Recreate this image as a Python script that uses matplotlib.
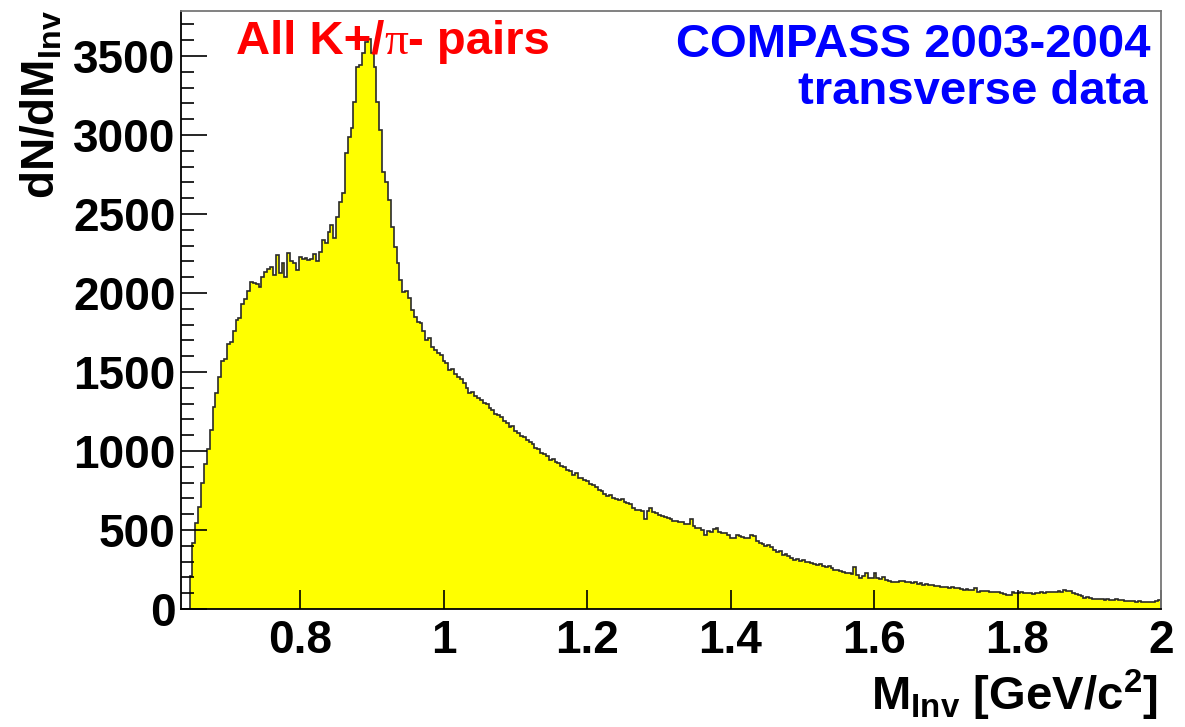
import numpy as np
import matplotlib
matplotlib.use("Agg")
import matplotlib.pyplot as plt
from matplotlib.ticker import MultipleLocator, NullLocator

plt.rcParams['mathtext.fontset'] = 'custom'
plt.rcParams['mathtext.rm'] = 'Liberation Sans:bold'
plt.rcParams['mathtext.it'] = 'Liberation Sans:bold'
plt.rcParams['mathtext.bf'] = 'Liberation Sans:bold'
plt.rcParams['mathtext.default'] = 'rm'

# ---------------- data ----------------
x_min = 0.634
x_max = 2.0
y_max = 3785

counts = [
    0, 0, 0, 210, 416, 545, 648, 795, 915, 1010,
    1133, 1280, 1368, 1470, 1572, 1580, 1676, 1690, 1760, 1829,
    1842, 1930, 1960, 2010, 2072, 2066, 2060, 2040, 2103, 2135,
    2150, 2165, 2114, 2240, 2124, 2188, 2103, 2251, 2200, 2188,
    2146, 2230, 2215, 2220, 2212, 2215, 2250, 2205, 2262, 2336,
    2315, 2389, 2430, 2346, 2483, 2578, 2631, 2884, 2989, 3042,
    3211, 3432, 3445, 3517, 3591, 3610, 3520, 3432, 3211, 3032,
    2768, 2705, 2589, 2420, 2290, 2188, 2080, 2008, 2015, 1966,
    1892, 1850, 1818, 1810, 1760, 1702, 1715, 1660, 1639, 1620,
    1610, 1570, 1555, 1513, 1520, 1490, 1470, 1455, 1428, 1400,
    1365, 1372, 1350, 1338, 1322, 1305, 1296, 1270, 1262, 1232,
    1228, 1215, 1190, 1178, 1150, 1158, 1128, 1112, 1098, 1090,
    1070, 1060, 1046, 1018, 1012, 985, 978, 966, 940, 948,
    928, 925, 905, 897, 880, 872, 850, 858, 832, 826,
    815, 808, 790, 782, 770, 752, 745, 728, 718, 722,
    705, 698, 690, 695, 680, 672, 665, 640, 628, 625,
    618, 570, 620, 640, 612, 605, 598, 590, 582, 575,
    572, 560, 555, 548, 552, 540, 535, 570, 528, 512,
    510, 500, 470, 495, 490, 505, 512, 485, 482, 478,
    470, 447, 452, 468, 462, 455, 447, 452, 468, 460,
    430, 418, 412, 400, 402, 392, 375, 360, 365, 342,
    345, 335, 322, 310, 316, 305, 312, 298, 300, 290,
    284, 278, 282, 270, 268, 272, 258, 250, 246, 240,
    232, 226, 230, 222, 268, 215, 196, 210, 226, 198,
    195, 226, 196, 192, 200, 185, 178, 168, 172, 170,
    180, 176, 168, 170, 165, 168, 160, 162, 155, 158,
    150, 152, 148, 145, 141, 138, 142, 136, 139, 132,
    130, 125, 122, 124, 120, 118, 130, 110, 112, 114,
    112, 108, 110, 106, 108, 102, 96, 88, 90, 108,
    104, 102, 106, 100, 104, 102, 98, 104, 101, 106,
    104, 108, 106, 110, 108, 112, 110, 118, 116, 112,
    100, 94, 88, 80, 72, 74, 68, 64, 66, 62,
    66, 60, 64, 58, 56, 62, 57, 54, 50, 52,
    48, 50, 47, 48, 44, 46, 42, 44, 45, 52, 58,
]

x_ticks = [0.8, 1.0, 1.2, 1.4, 1.6, 1.8, 2.0]
x_tick_labels = ['0.8', '1', '1.2', '1.4', '1.6', '1.8', '2']
y_ticks = [0, 500, 1000, 1500, 2000, 2500, 3000, 3500]
y_tick_labels = ['0', '500', '1000', '1500', '2000', '2500', '3000', '3500']

label_text = "All K+/"
label_pi = "π"
label_rest = "- pairs"
exp_line1 = "COMPASS 2003-2004"
exp_line2 = "transverse data"

# ---------------- figure ----------------
W, H = 1185, 727
fig = plt.figure(figsize=(W / 100, H / 100), dpi=100)
L, R, T, B = 181, 1161, 11, 609
ax = fig.add_axes([L / W, 1 - B / H, (R - L) / W, (B - T) / H])

edges = np.linspace(x_min, x_max, len(counts) + 1)
ax.stairs(counts, edges, fill=True, color='#ffff00', baseline=0)
ax.stairs(counts, edges, color='#2a2a2a', lw=1.2, baseline=0)

ax.set_xlim(x_min, x_max)
ax.set_ylim(0, y_max)

FS = 33
TFS = 34
font = dict(family='Liberation Sans', weight='bold')

ax.set_xticks(x_ticks)
ax.set_xticklabels(x_tick_labels, fontsize=FS, **font)
ax.set_yticks(y_ticks)
ax.set_yticklabels(y_tick_labels, fontsize=FS, **font)
ax.yaxis.set_minor_locator(MultipleLocator(100))
ax.xaxis.set_minor_locator(NullLocator())

ax.tick_params(axis='y', which='major', direction='in', length=19, width=1.2, pad=4, colors='black')
ax.tick_params(axis='y', which='minor', direction='in', length=9.5, width=1.2, colors='black')
ax.tick_params(axis='x', which='major', direction='in', length=14, width=1.2, pad=7, colors='black')

for s in ['left', 'bottom']:
    ax.spines[s].set_color('black')
    ax.spines[s].set_linewidth(1.3)
for s in ['top', 'right']:
    ax.spines[s].set_color('#777777')
    ax.spines[s].set_linewidth(1.3)

# axis titles
fig.text(1158 / W, 1 - 710 / H, r"M$_{\rm Inv}$ [GeV/c$^{2}$]", ha='right', va='baseline',
         fontsize=TFS, **font)
fig.text(42 / W, 1 - 10 / H, r"dN/dM$_{\rm Inv}$", ha='center', va='top', rotation=90,
         fontsize=TFS - 1, **font)

# red label in pieces
fig.canvas.draw()
r = fig.canvas.get_renderer()
t1 = fig.text(236 / W, 1 - 54 / H, label_text, ha='left', va='baseline', color='#ff0000',
              fontsize=TFS, **font)
bb = t1.get_window_extent(renderer=r)
t2 = fig.text(bb.x1 / W, 1 - 54 / H, label_pi, ha='left', va='baseline', color='#ff0000',
              fontsize=TFS, family='Liberation Serif')
bb2 = t2.get_window_extent(renderer=r)
fig.text(bb2.x1 / W, 1 - 54 / H, label_rest, ha='left', va='baseline', color='#ff0000',
         fontsize=TFS, **font)

fig.text(1150 / W, 1 - 57 / H, exp_line1, ha='right', va='baseline', color='#0000ff',
         fontsize=TFS, **font)
fig.text(1148 / W, 1 - 104 / H, exp_line2, ha='right', va='baseline', color='#0000ff',
         fontsize=TFS, **font)

fig.savefig('out.png', dpi=100)
